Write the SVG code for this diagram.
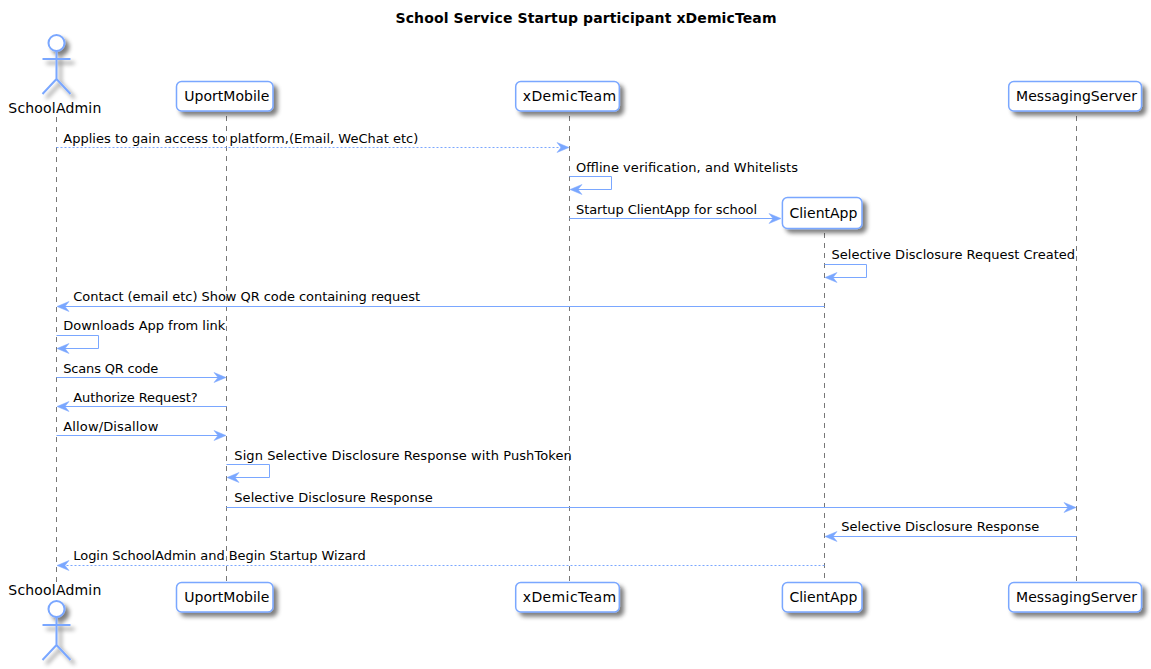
<svg xmlns="http://www.w3.org/2000/svg" width="1151" height="669" viewBox="0 0 1151 669">
<style>
text{font-family:"DejaVu Sans",sans-serif;fill:#000}
.t{font-size:14px;font-weight:700}
.n{font-size:14px}
.m{font-size:13px}
.box{fill:#fff;stroke:#7AA7FF;stroke-width:1.5}
.actor{fill:none;stroke:#7AA7FF;stroke-width:2}
.head{fill:#fff;stroke:#7AA7FF;stroke-width:2}
.life{stroke:#777;stroke-width:1;stroke-dasharray:5,5;fill:none}
.c{stroke:#7AA7FF;stroke-width:1;fill:none}
.d{stroke-dasharray:2,2}
.ah{fill:#7AA7FF;stroke:#7AA7FF;stroke-width:.5}
</style>
<defs>
<filter id="s" x="-30%" y="-30%" width="170%" height="170%"><feGaussianBlur in="SourceAlpha" stdDeviation="2"/><feOffset dx="4" dy="4"/><feColorMatrix type="matrix" values="0 0 0 0 0 0 0 0 0 0 0 0 0 0 0 0 0 0 0.5 0"/><feMerge><feMergeNode/><feMergeNode in="SourceGraphic"/></feMerge></filter>
<g id="actorShape"><circle class="head" cx="56.500" cy="43" r="8"/><path class="actor" d="M56.500 51V79M42.500 59H70.500M56.500 79L42.500 94M56.500 79L70.500 94"/></g>
<path id="r" class="ah" d="M-12 -5L0 0L-12 5L-8 0Z"/>
<path id="l" class="ah" d="M12 -5L0 0L12 5L8 0Z"/>
</defs>
<text class="t" x="395.500" y="23" textLength="381">School Service Startup participant xDemicTeam</text>
<g id="lifelines">
<path class="life" d="M56.500 117V582"/>
<path class="life" d="M226.500 116V582"/>
<path class="life" d="M569.500 116V582"/>
<path class="life" d="M824.500 233V582"/>
<path class="life" d="M1076.500 116V582"/>
</g>
<g id="SchoolAdmin"><use href="#actorShape" filter="url(#s)"/><text class="n" x="8.300" y="113" textLength="93">SchoolAdmin</text></g>
<g id="UportMobile"><rect class="box" x="176.500" y="81.500" width="96.500" height="29.500" rx="5" filter="url(#s)"/><text class="n" x="184.300" y="100.600" textLength="85">UportMobile</text></g>
<g id="xDemicTeam"><rect class="box" x="515.700" y="81.500" width="103.600" height="29.500" rx="5" filter="url(#s)"/><text class="n" x="522.700" y="100.600" textLength="93.500">xDemicTeam</text></g>
<g id="ClientApp"><rect class="box" x="782.400" y="197.500" width="79.600" height="31" rx="5" filter="url(#s)"/><text class="n" x="789.400" y="218" textLength="68">ClientApp</text></g>
<g id="MessagingServer"><rect class="box" x="1008.700" y="81.500" width="132.800" height="29.500" rx="5" filter="url(#s)"/><text class="n" x="1016" y="100.600" textLength="121">MessagingServer</text></g>
<g id="SchoolAdminBottom"><text class="n" x="8.300" y="595" textLength="93">SchoolAdmin</text><use href="#actorShape" y="566" filter="url(#s)"/></g>
<g id="UportMobileBottom"><rect class="box" x="176.500" y="582.500" width="96.500" height="29.500" rx="5" filter="url(#s)"/><text class="n" x="184.300" y="602" textLength="85">UportMobile</text></g>
<g id="xDemicTeamBottom"><rect class="box" x="515.700" y="582.500" width="103.600" height="29.500" rx="5" filter="url(#s)"/><text class="n" x="522.700" y="602" textLength="93.500">xDemicTeam</text></g>
<g id="ClientAppBottom"><rect class="box" x="782.400" y="582.500" width="79.600" height="29.500" rx="5" filter="url(#s)"/><text class="n" x="789.400" y="602" textLength="68">ClientApp</text></g>
<g id="MessagingServerBottom"><rect class="box" x="1008.700" y="582.500" width="132.800" height="29.500" rx="5" filter="url(#s)"/><text class="n" x="1016" y="602" textLength="121">MessagingServer</text></g>
<g id="connectors">
<path class="c d" d="M56.500 147.500H562"/><use href="#r" x="569" y="147.500"/>
<path class="c" d="M569.500 176.500H611.500V189.500H576"/><use href="#l" x="570" y="189.500"/>
<path class="c" d="M569.500 218.500H774"/><use href="#r" x="781" y="218.500"/>
<path class="c" d="M824.500 264.500H866.500V277.500H831"/><use href="#l" x="825" y="277.500"/>
<path class="c" d="M824.500 306.500H64"/><use href="#l" x="57" y="306.500"/>
<path class="c" d="M56.500 335.500H98.500V348.500H64"/><use href="#l" x="57" y="348.500"/>
<path class="c" d="M56.500 377.500H219"/><use href="#r" x="226" y="377.500"/>
<path class="c" d="M226.500 406.500H64"/><use href="#l" x="57" y="406.500"/>
<path class="c" d="M56.500 435.500H219"/><use href="#r" x="226" y="435.500"/>
<path class="c" d="M226.500 464.500H269.500V477.500H234"/><use href="#l" x="227" y="477.500"/>
<path class="c" d="M226.500 507.500H1069"/><use href="#r" x="1076" y="507.500"/>
<path class="c" d="M1076.500 536.500H832"/><use href="#l" x="825" y="536.500"/>
<path class="c d" d="M824.500 565.500H64"/><use href="#l" x="57" y="565.500"/>
</g>
<g id="labels">
<text class="m" x="63.300" y="143" textLength="355">Applies to gain access to platform,(Email, WeChat etc)</text>
<text class="m" x="576" y="172" textLength="222">Offline verification, and Whitelists</text>
<text class="m" x="576" y="214" textLength="181">Startup ClientApp for school</text>
<text class="m" x="831.500" y="259" textLength="243.500">Selective Disclosure Request Created</text>
<text class="m" x="73.300" y="301" textLength="346.700">Contact (email etc) Show QR code containing request</text>
<text class="m" x="63.300" y="330" textLength="162">Downloads App from link</text>
<text class="m" x="63.300" y="373" textLength="95">Scans QR code</text>
<text class="m" x="73.300" y="402" textLength="124.400">Authorize Request?</text>
<text class="m" x="63.300" y="431" textLength="95">Allow/Disallow</text>
<text class="m" x="234.300" y="460" textLength="337.400">Sign Selective Disclosure Response with PushToken</text>
<text class="m" x="234.300" y="502" textLength="198.400">Selective Disclosure Response</text>
<text class="m" x="841.300" y="531" textLength="198">Selective Disclosure Response</text>
<text class="m" x="73.300" y="560" textLength="292.400">Login SchoolAdmin and Begin Startup Wizard</text>
</g>
</svg>
